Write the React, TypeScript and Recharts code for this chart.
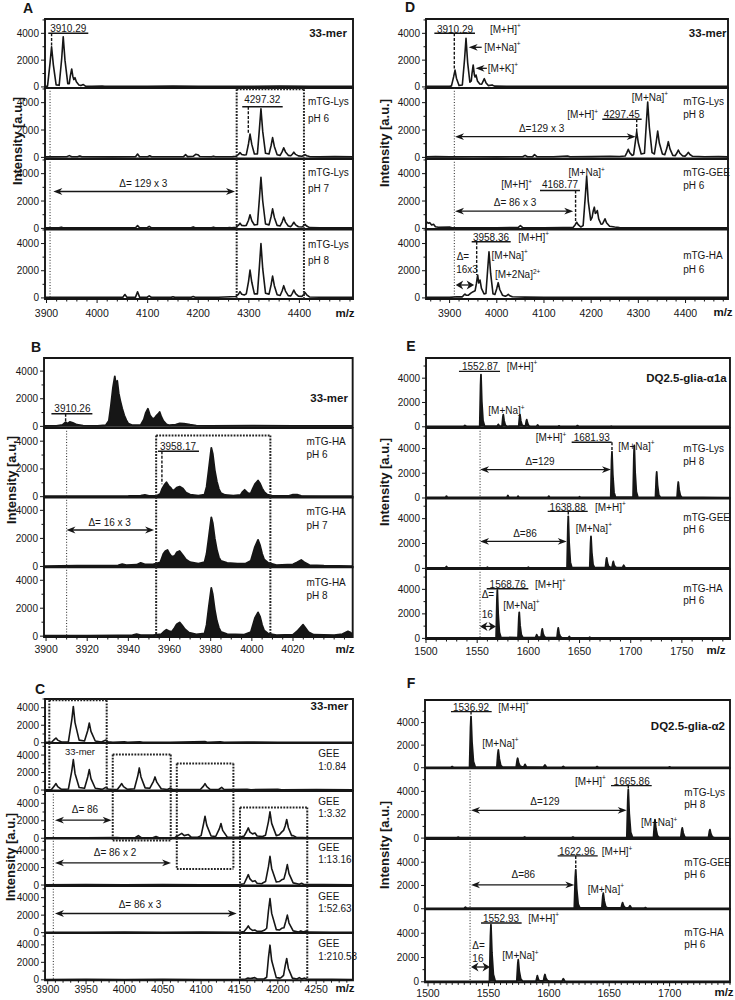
import React from "react";
import {
  ComposedChart,
  Line,
  Area,
  XAxis,
  YAxis,
  ReferenceLine,
  ReferenceDot,
  ReferenceArea,
} from "recharts";

const FONT = '"Liberation Sans", Arial, Helvetica, sans-serif';
const INK = "#161616";

// ---- tick labels ----
const yLabels = [0, 2000, 4000];
const yGrid = [0, 1000, 2000, 3000, 4000, 5000];
const mzLabelsA = [3900, 4000, 4100, 4200, 4300, 4400];
const mzLabelsB = [3900, 3920, 3940, 3960, 3980, 4000, 4020];
const mzLabelsC = [3900, 3950, 4000, 4050, 4100, 4150, 4200, 4250];
const mzLabelsE = [1500, 1550, 1600, 1650, 1700, 1750];
const mzLabelsF = [1500, 1550, 1600, 1650, 1700];

// ---- spectra: [m/z, intensity] ----
// A: 33-mer + mTG-Lys at pH 6/7/8
const a33mer = [[3897,40],[3902,60],[3907,1800],[3910,3000],[3913.5,1650],[3919,150],[3925,120],[3930,2100],[3933,3750],[3936.5,2000],[3942,250],[3945,250],[3947,800],[3949.8,1340],[3952,800],[3954,550],[3956.3,690],[3959,380],[3964,150],[3968,100],[3972.8,180],[3977,60],[3990,40],[4010,70],[4015,40],[4060,50],[4100,40],[4150,60],[4200,40],[4260,50],[4300,40],[4360,60],[4420,40],[4480,50],[4506,40]];
const aLysPh6 = [[3897,40],[3940,50],[3945,130],[3950,50],[3962,60],[3966,110],[3970,50],[4030,40],[4076,50],[4080,250],[4084,50],[4100,50],[4104,120],[4108,50],[4150,50],[4171,60],[4175,200],[4179,60],[4190,80],[4195,230],[4199,200],[4203,70],[4226,50],[4230,90],[4234,50],[4268,60],[4275,80],[4279.6,220],[4282.6,350],[4286,210],[4291,170],[4295,200],[4299.4,1000],[4302.4,1700],[4305.9,950],[4311,250],[4317,260],[4321,2100],[4324,3550],[4327.5,1900],[4333,300],[4340,250],[4344,850],[4347,1450],[4350.5,800],[4356,200],[4362,150],[4366,420],[4369,700],[4372.5,400],[4378,150],[4383,120],[4386,230],[4389,380],[4392.5,220],[4398,110],[4405,90],[4408,130],[4411,200],[4414.5,120],[4420,60],[4440,40],[4470,60],[4506,40]];
const aLysPh7 = [[3897,40],[3925,50],[3929,90],[3933,40],[3990,50],[4040,40],[4076,50],[4080,200],[4084,50],[4099,50],[4103,150],[4107,50],[4150,40],[4186,50],[4190,110],[4194,50],[4226,50],[4230,90],[4234,50],[4258,50],[4262,70],[4266,50],[4275,90],[4279.6,230],[4282.6,380],[4286,220],[4291,190],[4295,220],[4299.4,600],[4302.4,1000],[4305.9,560],[4311,250],[4317,280],[4321,2200],[4324,3740],[4327.5,2000],[4333,320],[4340,260],[4344,850],[4347,1430],[4350.5,800],[4356,220],[4362,180],[4366,480],[4369,820],[4372.5,460],[4378,170],[4383,130],[4386,270],[4389,450],[4392.5,260],[4398,120],[4405,100],[4408,180],[4411,290],[4414.5,170],[4420,60],[4440,50],[4480,40],[4506,40]];
const aLysPh8 = [[3897,40],[3950,50],[4000,40],[4051,50],[4055,250],[4059,50],[4076,60],[4080,450],[4084,60],[4099,50],[4103,150],[4107,50],[4146,40],[4150,80],[4154,40],[4186,50],[4190,100],[4194,50],[4240,50],[4275,100],[4279.6,280],[4282.6,460],[4286,270],[4291,220],[4295,300],[4299.4,1200],[4302.4,2050],[4305.9,1150],[4311,300],[4317,300],[4321,2350],[4324,4000],[4327.5,2150],[4333,350],[4340,280],[4344,950],[4347,1610],[4350.5,900],[4356,230],[4362,180],[4366,530],[4369,900],[4372.5,500],[4378,170],[4383,150],[4386,340],[4389,580],[4392.5,320],[4398,130],[4405,110],[4408,240],[4411,400],[4414.5,230],[4420,70],[4440,50],[4480,40],[4506,40]];

// B: 33-mer + mTG-HA at pH 6/7/8
const b33mer = [[3899,30],[3905,40],[3908,100],[3909.5,300],[3910.5,200],[3911.5,320],[3913,250],[3915,120],[3918,60],[3925,40],[3929,80],[3930.5,400],[3931.5,1500],[3932.5,2800],[3933.4,3620],[3934,2900],[3934.6,3300],[3935.3,2400],[3936,1900],[3937,1300],[3938,800],[3939,450],[3940,200],[3942,80],[3946,100],[3947.5,500],[3948.5,1000],[3949.5,1280],[3950.5,800],[3951.5,600],[3952.5,550],[3953.5,750],[3954.5,900],[3955.2,1040],[3956,700],[3957,400],[3958.5,150],[3960,80],[3963,120],[3965,220],[3967,200],[3970,120],[3973,60],[3980,40],[4000,50],[4020,40],[4049,30]];
const bHaPh6 = [[3899,30],[3920,40],[3940,50],[3946,80],[3948,120],[3950,60],[3954,80],[3955.5,200],[3956.5,600],[3957.5,850],[3958.5,1040],[3959.5,800],[3960.5,650],[3961.5,450],[3962.5,500],[3963.5,650],[3964.9,730],[3966.5,580],[3968,300],[3970,150],[3974,80],[3977,150],[3978,700],[3979,1900],[3980.3,3520],[3981,3100],[3982,1900],[3983,1100],[3984,550],[3985,250],[3987,120],[3991,80],[3994.5,120],[3995.5,350],[3996.5,495],[3997.5,350],[3998.5,220],[3999.5,260],[4000.5,600],[4001.5,900],[4003,1165],[4004,950],[4005,600],[4006,350],[4007.5,150],[4010,60],[4018,60],[4020,150],[4022,140],[4024,60],[4035,40],[4049,30]];
const bHaPh7 = [[3899,30],[3915,50],[3925,60],[3935,80],[3937,160],[3939,90],[3944,120],[3946,250],[3948,150],[3952,150],[3955.5,300],[3957,900],[3958,1100],[3959,1170],[3960,900],[3961,700],[3962.5,750],[3963.5,1000],[3964.9,1100],[3966.5,800],[3968,500],[3970,300],[3974,200],[3977,300],[3978,900],[3979,2000],[3980.3,3500],[3981,3100],[3982,2000],[3983,1200],[3984,650],[3985,400],[3988,250],[3993,200],[3997,200],[3999.5,400],[4000.5,900],[4001.5,1400],[4003,1890],[4004,1500],[4005,900],[4006,500],[4008,250],[4012,100],[4020,150],[4022,300],[4024,460],[4025.5,300],[4028,100],[4035,50],[4049,30]];
const bHaPh8 = [[3899,30],[3920,40],[3935,60],[3942,80],[3944,150],[3946,80],[3952,80],[3956,150],[3957.5,350],[3958.5,460],[3959.5,380],[3961,300],[3962.5,600],[3963.5,850],[3964.9,985],[3966,800],[3967.5,500],[3969.5,250],[3973,120],[3977,200],[3978,800],[3979,2000],[3980.3,3450],[3981,3000],[3982,1900],[3983,1100],[3984,600],[3985,300],[3988,150],[3996,100],[3999.5,300],[4000.5,800],[4001.5,1300],[4003,1700],[4004,1400],[4005,800],[4006,400],[4008,180],[4012,80],[4020,100],[4022,350],[4023.5,600],[4024.9,820],[4026,600],[4027.5,300],[4030,100],[4040,80],[4044,150],[4046.7,340],[4048,250],[4049,150]];

// C: 33-mer + GEE molar ratios
const c33mer = [[3896.5,40],[3905,60],[3908.8,380],[3910.8,540],[3913,300],[3918,80],[3927,120],[3931.4,2600],[3933.4,4150],[3935.6,2300],[3941,300],[3948,200],[3952.2,1400],[3954.2,2260],[3956.4,1300],[3962,200],[3970,80],[3974.5,250],[3976,300],[3978.5,120],[3985,50],[4000,100],[4004,40],[4020,120],[4024,40],[4060,60],[4105,150],[4109,40],[4125,100],[4130,40],[4160,80],[4200,40],[4250,50],[4298,40]];
const cGee084 = [[3896.5,40],[3905,60],[3908.8,500],[3910.8,740],[3913,400],[3918,80],[3927,120],[3931.4,2200],[3933.4,3480],[3935.6,1900],[3941,300],[3948,200],[3952.2,1500],[3954.2,2340],[3956.4,1300],[3962,200],[3971,80],[3974.5,250],[3976,300],[3978.5,120],[3985,60],[3991,80],[3994.5,500],[3996.5,740],[3998.8,400],[4004,80],[4013,150],[4017.4,1600],[4019.4,2530],[4021.6,1500],[4027,250],[4033,200],[4037.9,1000],[4039.9,1500],[4042.2,900],[4048,150],[4056,60],[4059.5,200],[4063,60],[4080,50],[4099,60],[4103.1,450],[4105.1,740],[4107.4,400],[4112,60],[4123,60],[4126.8,300],[4130,60],[4160,80],[4165,40],[4200,80],[4205,40],[4250,50],[4298,40]];
const cGee332 = [[3896.5,40],[3930,50],[3950,60],[3990,80],[3995,40],[4014,60],[4018.2,300],[4022,60],[4037,50],[4041.2,200],[4045,50],[4066,80],[4070,300],[4074.7,550],[4078,300],[4083.4,420],[4087,120],[4095,100],[4100,300],[4103.1,1600],[4105.1,2520],[4107.3,1500],[4113,250],[4119,200],[4123.9,1100],[4125.9,1690],[4128.1,900],[4134,150],[4150,100],[4156,250],[4159.5,800],[4161.5,1180],[4163.7,700],[4167,500],[4170.3,600],[4173,250],[4180,200],[4184,350],[4187.8,1900],[4189.8,3010],[4192,1700],[4198,300],[4202,400],[4205,700],[4207.5,900],[4209.6,1400],[4211.6,2140],[4213.8,1200],[4218,300],[4220,300],[4224,120],[4240,60],[4270,50],[4298,40]];
const cGee1316 = [[3896.5,40],[3950,60],[4000,40],[4050,60],[4100,40],[4150,60],[4156,150],[4159.5,800],[4161.5,1190],[4163.7,700],[4167,400],[4170.3,500],[4173,200],[4179,150],[4181.5,300],[4184,400],[4187.8,2100],[4189.8,3290],[4192,1900],[4198,350],[4202,400],[4205,600],[4208,700],[4210.4,1500],[4212.4,2340],[4214.6,1300],[4220,250],[4228,100],[4231,200],[4234,60],[4260,50],[4298,40]];
const cGee5263 = [[3896.5,40],[3950,50],[4000,60],[4050,40],[4100,60],[4150,50],[4156,120],[4159.5,500],[4161.5,770],[4163.7,450],[4167,250],[4170,300],[4173,150],[4179,150],[4183,300],[4185.5,500],[4187.8,2500],[4189.8,3900],[4192,2200],[4198,350],[4202,300],[4205,500],[4208,550],[4210.4,1300],[4212.4,2000],[4214.6,1100],[4220,200],[4227,80],[4230,200],[4233,80],[4237,200],[4240,60],[4270,50],[4298,40]];
const cGee21053 = [[3896.5,40],[3950,50],[4000,40],[4050,50],[4100,40],[4150,50],[4158,100],[4161,200],[4164,150],[4167,200],[4170,250],[4173,100],[4182,100],[4185.5,300],[4187.8,2500],[4189.8,3960],[4192,2200],[4198,250],[4203,200],[4205,300],[4207.5,500],[4209.6,1600],[4211.6,2440],[4213.8,1300],[4219,200],[4225,100],[4228,250],[4231,100],[4235,200],[4238,60],[4270,50],[4298,40]];

// D: 33-mer, mTG-Lys pH 8, mTG-GEE pH 6, mTG-HA pH 6
const d33mer = [[3850,40],[3880,50],[3900,40],[3904,80],[3908.5,750],[3911.5,1260],[3914.5,650],[3920,100],[3927,150],[3931.8,2100],[3934.8,3630],[3938.3,1800],[3943,350],[3946,450],[3947.5,1000],[3950,1640],[3952.5,900],[3954,750],[3956,890],[3959,450],[3964,220],[3968,200],[3970.6,400],[3973.6,614],[3977,320],[3982,100],[3990,150],[3995,60],[4020,40],[4080,50],[4150,40],[4220,50],[4300,40],[4380,50],[4450,40],[4490,40]];
const dLysPh8 = [[3850,40],[3870,60],[3900,40],[3950,50],[4000,40],[4055,50],[4060,150],[4065,50],[4076,60],[4080,200],[4085,60],[4120,50],[4150,100],[4155,50],[4200,60],[4240,80],[4260,70],[4272,100],[4275.7,350],[4278.7,590],[4282,330],[4287,150],[4290,200],[4293.5,1100],[4296.5,1880],[4300,1050],[4306,250],[4313,300],[4316.8,2400],[4319.8,4050],[4323.3,2200],[4329,350],[4334,250],[4338,1150],[4341,1930],[4344.5,1050],[4351,250],[4356,200],[4360.5,680],[4363.5,1150],[4367,620],[4373,150],[4378,120],[4381.7,320],[4384.7,540],[4388.2,300],[4394,100],[4399,90],[4402.8,220],[4405.8,370],[4409.3,210],[4415,80],[4440,50],[4470,60],[4490,40]];
const dGeePh6 = [[3850,300],[3852,450],[3855,380],[3858,420],[3862,250],[3866,300],[3870,120],[3876,80],[3900,100],[3905,50],[3950,40],[4000,50],[4045,60],[4050,200],[4055,60],[4100,50],[4140,60],[4162,80],[4166.3,270],[4169.3,450],[4172.5,280],[4178,100],[4183,200],[4187.5,2300],[4190.5,3800],[4193.8,2000],[4199,600],[4202,800],[4204.5,1300],[4206.7,1550],[4208.8,1100],[4211,1150],[4213,1310],[4216,700],[4221,300],[4224,320],[4226.5,500],[4229.3,700],[4232.5,420],[4239,160],[4250,100],[4260,60],[4300,50],[4350,40],[4400,50],[4450,40],[4490,40]];
const dHaPh6 = [[3850,40],[3880,50],[3900,40],[3915,80],[3927,80],[3930,200],[3932.6,280],[3935,200],[3940,200],[3945,350],[3950,460],[3954,520],[3956.8,1050],[3959.5,1690],[3961.6,1100],[3962.6,1150],[3964.4,1320],[3967.5,700],[3973,300],[3977,320],[3980.5,2000],[3983.5,3400],[3987,1800],[3992,300],[3996,250],[4000,700],[4003,1120],[4006.3,620],[4012,200],[4018,120],[4021.5,180],[4024.4,260],[4027.5,160],[4033,80],[4060,60],[4100,50],[4150,40],[4200,50],[4280,40],[4350,50],[4420,40],[4490,40]];

// E: DQ2.5-glia-α1a series
const eAlpha1a = [[1500,30],[1520,40],[1537,40],[1538,110],[1539.5,40],[1552.5,40],[1553.3,3400],[1553.7,4300],[1554.5,2100],[1555.7,500],[1557.2,60],[1569.5,50],[1570.6,200],[1571.8,50],[1574.3,50],[1575.1,800],[1575.5,1000],[1576.3,500],[1577.5,120],[1579,40],[1590.6,60],[1591.4,800],[1591.8,1000],[1592.6,500],[1593.8,150],[1595,80],[1597.2,80],[1598,470],[1598.4,580],[1599.2,300],[1600.4,80],[1602,40],[1608,40],[1609,150],[1610.2,40],[1629,40],[1630,80],[1631,40],[1647,40],[1648,100],[1649,40],[1680,40],[1681,60],[1682,40],[1740,40],[1797,30]];
const eLysPh8 = [[1500,40],[1519,40],[1520,150],[1521,40],[1560,40],[1579,50],[1580,200],[1581,50],[1589,40],[1590,150],[1591,40],[1619,40],[1620,150],[1621,40],[1649,40],[1650,100],[1651,40],[1680.5,60],[1681.3,3000],[1681.7,3720],[1682.5,1900],[1683.7,450],[1685.2,60],[1702.3,60],[1703.1,3400],[1703.5,4260],[1704.3,2100],[1705.5,500],[1707,60],[1724.2,50],[1725,1700],[1725.4,2100],[1726.2,1050],[1727.4,250],[1729,50],[1745.3,50],[1746.1,1000],[1746.5,1290],[1747.3,650],[1748.5,200],[1750,50],[1770,40],[1797,30]];
const eGeePh6 = [[1500,40],[1519,40],[1520,150],[1521,40],[1559,40],[1560,100],[1561,40],[1599,40],[1600,100],[1601,40],[1637.8,60],[1638.6,3300],[1639,4180],[1639.8,2100],[1641,500],[1642.5,60],[1660,60],[1660.8,2050],[1661.2,2570],[1662,1300],[1663.2,300],[1664.7,60],[1675.3,60],[1676.1,670],[1676.5,835],[1677.3,420],[1678.5,150],[1680,80],[1681.8,80],[1682.6,450],[1683,560],[1683.8,280],[1685,100],[1686.5,60],[1692,60],[1693.1,250],[1694.5,60],[1720,40],[1760,40],[1797,30]];
const eHaPh6 = [[1500,40],[1530,40],[1550,40],[1568.5,60],[1569.3,3150],[1569.7,3950],[1570.5,2000],[1571.7,500],[1573.2,80],[1589.9,60],[1590.7,1700],[1591.1,2120],[1591.9,1060],[1593.1,300],[1594.6,80],[1607,60],[1608.1,300],[1609.3,100],[1612.4,100],[1613.2,610],[1613.6,770],[1614.4,380],[1615.6,150],[1617,60],[1628,60],[1628.8,680],[1629.2,850],[1630,420],[1631.2,150],[1632.7,60],[1639,40],[1640,150],[1641,40],[1659,40],[1660,100],[1661,40],[1700,40],[1797,30]];

// F: DQ2.5-glia-α2 series
const fAlpha2 = [[1497.5,30],[1519,40],[1520,100],[1521,40],[1534.4,60],[1535.2,3600],[1535.6,4530],[1536.4,2300],[1537.6,550],[1539.1,60],[1557,60],[1557.8,1260],[1558.2,1570],[1559,800],[1560.2,200],[1561.7,60],[1573,60],[1573.8,670],[1574.2,840],[1575,420],[1576.2,150],[1577.7,80],[1579.3,80],[1580.3,300],[1581.5,80],[1595.6,60],[1596.8,250],[1598,60],[1611,40],[1612,120],[1613,40],[1639,40],[1640,100],[1641,40],[1699,40],[1700,80],[1701,40],[1750,30]];
const fLysPh8 = [[1497.5,30],[1524,40],[1525,80],[1526,40],[1579,40],[1580,100],[1581,40],[1619,40],[1620,100],[1621,40],[1664.6,60],[1665.4,3300],[1665.8,4150],[1666.6,2100],[1667.8,500],[1669.3,60],[1686.7,60],[1687.5,1260],[1687.9,1580],[1688.7,800],[1689.9,200],[1691.4,60],[1709.3,60],[1710.1,690],[1710.5,870],[1711.3,440],[1712.5,120],[1714,50],[1732.2,50],[1733,580],[1733.4,720],[1734.2,360],[1735.4,100],[1737,40],[1750,30]];
const fGeePh6 = [[1497.5,30],[1530,40],[1531,130],[1532,40],[1580,40],[1621.1,60],[1621.9,2700],[1622.3,3340],[1623.1,1700],[1624.3,400],[1625.8,60],[1643.9,60],[1644.7,1060],[1645.1,1330],[1645.9,670],[1647.1,180],[1648.6,60],[1659.9,60],[1660.7,420],[1661.1,520],[1661.9,260],[1663.1,100],[1664.6,60],[1666,60],[1667.2,250],[1668.4,60],[1679,40],[1680,100],[1681,40],[1750,30]];
const fHaPh6 = [[1497.5,30],[1520,40],[1550.9,60],[1551.7,3800],[1552.1,4700],[1552.9,2400],[1554.1,600],[1555.6,60],[1573.5,60],[1574.3,1450],[1574.7,1820],[1575.5,900],[1576.7,250],[1578.2,60],[1589.5,60],[1590.5,500],[1591.5,150],[1592.5,80],[1595.6,80],[1596.4,480],[1596.8,600],[1597.6,300],[1598.8,100],[1600.3,60],[1611,60],[1612,250],[1613.2,60],[1630,40],[1660,40],[1700,40],[1750,30]];

// ---- annotation helpers (data coordinates) ----
const T = 1e6;
const B = -1e6;
const txt = (x: number, y: number, s: string, a = "start", extra: any = {}) => ({ k: "t", x, y, s, a, ...extra });
const ion = (x: number, y: number, s: string, sup: string, a = "start") => ({ k: "t", x, y, s, a, sup });
const title = (x: number, y: number, s: string) => ({ k: "t", x, y, s, a: "end", b: true, fs: 11.5 });
const hl = (x1: number, x2: number, y: number, st = "solid") => ({ k: "l", x1, x2, y1: y, y2: y, st });
const vl = (x: number, y1: number, y2: number, st: string) => ({ k: "l", x1: x, x2: x, y1, y2, st });
const ar = (x1: number, x2: number, y: number, extra: any = {}) => ({ k: "a", x1, x2, y, ...extra });

const notesA = [
  [txt(3943, 4339, "3910.29", "middle"), hl(3903.5, 3982.6, 4003), vl(3910, 4003, 3000, "dash"), title(4494, 4003, "33-mer")],
  [txt(4326.7, 4266, "4297.32", "middle"), hl(4287, 4367, 3704), vl(4299, 3704, 1761, "dash"),
    txt(4417, 4069, "mTG-Lys"), txt(4417, 2857, "pH 6"),
    hl(4276, 4409, 4975, "box"), vl(4276, 4975, B, "box"), vl(4409, 4975, B, "box"), vl(3907, T, B, "fine")],
  [ar(3913.5, 4272.7, 2696), txt(4091.4, 3302, "Δ= 129 x 3", "middle"),
    txt(4417, 4106, "mTG-Lys"), txt(4417, 2893, "pH 7"),
    vl(4276, T, B, "box"), vl(4409, T, B, "box"), vl(3907, T, B, "fine")],
  [txt(4417, 3944, "mTG-Lys"), txt(4417, 2789, "pH 8"),
    vl(4276, T, B, "box"), vl(4409, T, B, "box"), vl(3907, T, B, "fine")],
];

const notesB = [
  [txt(3912.8, 1258, "3910.26", "middle"), hl(3902.6, 3922.5, 917), vl(3909.5, 917, 300, "dash"), title(4046.7, 2054, "33-mer")],
  [hl(3953.5, 4009, 4409, "box"), vl(3953.5, 4409, B, "box"), vl(4009, 4409, B, "box"),
    txt(3964.1, 3616, "3958.17", "middle"), hl(3954.4, 3974.3, 3278), vl(3956.3, 3278, 900, "dash"),
    txt(4026.5, 3998, "mTG-HA"), txt(4026.5, 3040, "pH 6"), vl(3910, T, B, "fine")],
  [ar(3909.9, 3952.5, 2598), txt(3930.9, 3118, "Δ= 16 x 3", "middle"),
    txt(4026.5, 3901, "mTG-HA"), txt(4026.5, 2953, "pH 7"),
    vl(3953.5, T, B, "box"), vl(4009, T, B, "box"), vl(3910, T, B, "fine")],
  [txt(4026.5, 3848, "mTG-HA"), txt(4026.5, 2918, "pH 8"),
    vl(3953.5, T, B, "box"), vl(4009, T, B, "box"), vl(3910, T, B, "fine")],
];

const notesC = [
  [hl(3902.1, 3976.9, 4850, "box"), vl(3902.1, 4850, B, "box"), vl(3976.9, 4850, B, "box"), title(4291.9, 4155, "33-mer")],
  [vl(3902.1, T, B, "box"), vl(3976.9, T, B, "box"), txt(3942.1, 4429, "33-mer", "middle", { fs: 9.5 }),
    hl(3984.8, 4060.4, 4052, "box"), vl(3984.8, 4052, B, "box"), vl(4060.4, 4052, B, "box"),
    hl(4068.3, 4142.1, 3023, "box"), vl(4068.3, 3023, B, "box"), vl(4142.1, 3023, B, "box"),
    txt(4252.8, 4132, "GEE"), txt(4252.8, 2715, "1:0.84")],
  [vl(3984.8, T, B, "box"), vl(4060.4, T, B, "box"), vl(4068.3, T, B, "box"), vl(4142.1, T, B, "box"),
    hl(4150.7, 4238.4, 3515, "box"), vl(4150.7, 3515, B, "box"), vl(4238.4, 3515, B, "box"),
    vl(3907.3, T, B, "fine"), ar(3909.5, 3983.4, 2063), txt(3948.6, 3286, "Δ= 86", "middle"),
    txt(4252.8, 4155, "GEE"), txt(4252.8, 2829, "1:3.32")],
  [vl(3984.8, T, 5080, "box"), vl(4060.4, T, 5080, "box"), hl(3984.8, 4060.4, 5080, "box"),
    vl(4068.3, T, 1846, "box"), vl(4142.1, T, 1846, "box"), hl(4068.3, 4142.1, 1846, "box"),
    vl(4150.7, T, B, "box"), vl(4238.4, T, B, "box"), vl(3907.3, T, B, "fine"),
    ar(3909.5, 4060.8, 2532), txt(3987.8, 3675, "Δ= 86 x 2", "middle"),
    txt(4252.8, 4246, "GEE"), txt(4252.8, 2909, "1:13.16")],
  [vl(4150.7, T, B, "box"), vl(4238.4, T, B, "box"), vl(3907.3, T, B, "fine"),
    ar(3909.5, 4146.4, 2189), txt(4020.3, 3234, "Δ= 86 x 3", "middle"),
    txt(4252.8, 4143, "GEE"), txt(4252.8, 2732, "1:52.63")],
  [vl(4150.7, T, B, "box"), vl(4238.4, T, B, "box"), vl(3907.3, T, B, "fine"),
    txt(4252.8, 4138, "GEE"), txt(4252.8, 2680, "1:210.53")],
];

const notesD = [
  [txt(3911.5, 4301, "3910.29", "middle"), hl(3867.7, 3953.8, 4003), vl(3910, 4003, 1263, "dash"),
    ion(3985.6, 4301, "[M+H]", "+"),
    ar(3968, 3940.5, 2958, { one: true }), ion(3973.6, 2958, "[M+Na]", "+"),
    ar(3979, 3955, 1390, { one: true }), ion(3981, 1390, "[M+K]", "+"),
    title(4487, 4003, "33-mer")],
  [ion(4324.7, 4400, "[M+Na]", "+", "middle"), ion(4182, 3098, "[M+H]", "+", "middle"),
    txt(4265, 3098, "4297.45", "middle"), hl(4223.6, 4307, 2784), vl(4296.5, 2784, 1878, "dash"),
    ar(3911.5, 4294.4, 1513), txt(4095, 2126, "Δ=129 x 3", "middle"),
    txt(4395, 4069, "mTG-Lys"), txt(4395, 3098, "pH 8"), vl(3910, T, B, "fine")],
  [ion(4190.5, 4062, "[M+Na]", "+", "middle"), ion(4042, 3185, "[M+H]", "+", "middle"),
    txt(4134, 3185, "4168.77", "middle"), hl(4091.6, 4176.3, 2769), vl(4167, 2769, 453, "dash"),
    ar(3911.5, 4162, 1257), txt(4038.6, 1914, "Δ= 86 x 3", "middle"),
    txt(4395, 4062, "mTG-GEE"), txt(4395, 3134, "pH 6"), vl(3910, T, B, "fine")],
  [txt(3987.7, 4459, "3958.36", "middle"), hl(3946.8, 4029.5, 4136), vl(3957.4, 4136, 1686, "dash"),
    ion(4045.6, 4459, "[M+H]", "+"), ion(3989, 3157, "[M+Na]", "+"), ion(3996, 1686, "[M+2Na]", "2+"),
    txt(3915, 3032, "Δ="), txt(3914, 2054, "16x3"), ar(3913, 3952, 950, { fat: true }),
    txt(4395, 3157, "mTG-HA"), txt(4395, 2106, "pH 6"), vl(3910, T, B, "fine")],
];

const notesE = [
  [txt(1552.8, 4969, "1552.87", "middle"), hl(1532.2, 1572.3, 4557), ion(1578.8, 4969, "[M+H]", "+"),
    ion(1560.9, 1324, "[M+Na]", "+"), title(1793.8, 4015, "DQ2.5-glia-α1a")],
  [ion(1607.2, 4884, "[M+H]", "+"), txt(1661.9, 4884, "1681.93", "middle"), hl(1642.3, 1681.4, 4503),
    vl(1681.7, 4503, 3719, "dash"), ion(1687.9, 4180, "[M+Na]", "+"),
    ar(1552.8, 1680.7, 2295), txt(1611.4, 2990, "Δ=129", "middle"),
    txt(1751.4, 3994, "mTG-Lys"), txt(1751.4, 2910, "pH 8"), vl(1552.8, T, B, "fine")],
  [txt(1638.4, 4936, "1638.88", "middle"), hl(1618.9, 1658, 4582), vl(1639, 4582, 4180, "dash"),
    ion(1665.1, 4936, "[M+H]", "+"), ion(1646.2, 3247, "[M+Na]", "+"),
    ar(1552.8, 1637.5, 2170), txt(1596.7, 2813, "Δ=86", "middle"),
    txt(1751.4, 4100, "mTG-GEE"), txt(1751.4, 3110, "pH 6"), vl(1552.8, T, B, "fine")],
  [txt(1579.8, 4436, "1568.76", "middle"), hl(1559.3, 1600, 4053), ion(1606.5, 4436, "[M+H]", "+"),
    ion(1575.5, 2723, "[M+Na]", "+"), txt(1554.4, 3564, "Δ="), txt(1554.4, 1932, "16"),
    ar(1552.8, 1568.4, 978, { fat: true }),
    txt(1751.4, 4029, "mTG-HA"), txt(1751.4, 3099, "pH 6"), vl(1552.8, T, B, "fine")],
];

const notesF = [
  [txt(1535.6, 5362, "1536.92", "middle"), hl(1519, 1552.7, 4972), vl(1535.6, 4972, 4528, "dash"),
    ion(1558.2, 5362, "[M+H]", "+"), ion(1544.9, 2168, "[M+Na]", "+"), title(1745.8, 3703, "DQ2.5-glia-α2")],
  [ion(1621.7, 4862, "[M+H]", "+"), txt(1668.6, 4862, "1665.86", "middle"), hl(1651.5, 1685.2, 4493),
    vl(1665.8, 4493, 4150, "dash"), ion(1676.3, 1296, "[M+Na]", "+"),
    ar(1535.6, 1664.5, 2376), txt(1596.8, 3148, "Δ=129", "middle"),
    txt(1712.2, 3919, "mTG-Lys"), txt(1712.2, 2864, "pH 8"), vl(1534.8, T, B, "fine")],
  [txt(1623.3, 4915, "1622.96", "middle"), hl(1607.3, 1640.5, 4545), vl(1622.3, 4545, 3338, "dash"),
    ion(1643.8, 4915, "[M+H]", "+"), ion(1632.2, 1674, "[M+Na]", "+"),
    ar(1535.6, 1621.1, 2045), txt(1578.9, 2907, "Δ=86", "middle"),
    txt(1712.2, 4001, "mTG-GEE"), txt(1712.2, 2967, "pH 6"), vl(1534.8, T, B, "fine")],
  [txt(1560.4, 5258, "1552.93", "middle"), hl(1543.9, 1577.5, 4846), ion(1583, 5258, "[M+H]", "+"),
    ion(1561.5, 2151, "[M+Na]", "+"), txt(1536.7, 3000, "Δ="), txt(1536.7, 1879, "16"),
    ar(1535.6, 1551.3, 1219, { fat: true }),
    txt(1712.2, 4022, "mTG-HA"), txt(1712.2, 3057, "pH 6"), vl(1534.8, T, B, "fine")],
];

const panels = [
  { x0: 45, x1: 353, tops: [19, 88, 158.5, 229, 299], xd: [3897, 4506], yd: [[-80, 5070]],
    spectra: [a33mer, aLysPh6, aLysPh7, aLysPh8], notes: notesA, labels: mzLabelsA, minor: 20, labOff: 14 },
  { x0: 426, x1: 728, tops: [19, 88, 158.5, 229, 299], xd: [3850, 4490], yd: [[-80, 5070]],
    spectra: [d33mer, dLysPh8, dGeePh6, dHaPh6], notes: notesD, labels: mzLabelsA, minor: 20, labOff: 14 },
  { x0: 44.3, x1: 353, tops: [358.3, 427.5, 497, 567.3, 637.3], xd: [3899, 4049], yd: [[-60, 4950]],
    spectra: [b33mer, bHaPh6, bHaPh7, bHaPh8], notes: notesB, labels: mzLabelsB, minor: 5, labOff: 12.5, filled: true },
  { x0: 426, x1: 730, tops: [358.3, 427.7, 498.3, 569.3, 639.3], xd: [1500, 1797], yd: [[-50, 5660]],
    spectra: [eAlpha1a, eLysPh8, eGeePh6, eHaPh6], notes: notesE, labels: mzLabelsE, minor: 10, labOff: 12, filled: true },
  { x0: 45, x1: 353, tops: [699.3, 743.4, 790.8, 838.4, 885.8, 932.8, 980], xd: [3896.5, 4298],
    yd: [[-40, 5000], [-40, 5380], [-40, 5400], [-40, 5380], [-40, 5330], [-40, 5350]],
    spectra: [c33mer, cGee084, cGee332, cGee1316, cGee5263, cGee21053], notes: notesC, labels: mzLabelsC, minor: 10, labOff: 9.5 },
  { x0: 425, x1: 730, tops: [700, 768.3, 839, 909.3, 982.7], xd: [1497.5, 1750], yd: [[-50, 6000]],
    spectra: [fAlpha2, fLysPh8, fGeePh6, fHaPh6], notes: notesF, labels: mzLabelsF, minor: 5, labOff: 11, filled: true },
];

const LS: any = {
  solid: { stroke: INK, strokeWidth: 1.4 },
  dash: { stroke: INK, strokeWidth: 1.4, strokeDasharray: "3 1.6" },
  box: { stroke: "#222", strokeWidth: 2, strokeDasharray: "1.8 1.3" },
  fine: { stroke: "#222", strokeWidth: 1, strokeDasharray: "1 1.8" },
};

const grid = (lo: number, hi: number, step: number) => {
  const out: number[] = [];
  for (let v = Math.ceil(lo / step) * step; v <= hi + 1e-6; v += step) out.push(v);
  return out;
};

function XTick(props: any) {
  const { x, y, payload, majors, off } = props;
  const major = majors.includes(payload.value);
  return (
    <g>
      <line x1={x} x2={x} y1={y} y2={y + (major ? 4 : 2.5)} stroke={INK} strokeWidth={1} />
      {major && (
        <text x={x} y={y + off} textAnchor="middle" dominantBaseline="central" fontSize={10.5} fill={INK} fontFamily={FONT}>
          {payload.value}
        </text>
      )}
    </g>
  );
}

function YTick(props: any) {
  const { x, y, payload } = props;
  const major = yLabels.includes(payload.value);
  return (
    <g>
      <line x1={x - (major ? 4 : 2.5)} x2={x} y1={y} y2={y} stroke={INK} strokeWidth={1} />
      {major && (
        <text x={x - 6} y={y} textAnchor="end" dominantBaseline="central" fontSize={10} fill={INK} fontFamily={FONT}>
          {payload.value}
        </text>
      )}
    </g>
  );
}

function Arrow(p: any) {
  const { x1, y1, x2, fat, one } = p;
  const L = fat ? 7.5 : 9;
  const W = fat ? 4.5 : 3.4;
  const d = x2 > x1 ? 1 : -1;
  const head = (tip: number, s: number) =>
    `M${tip},${y1}L${tip - s * L},${y1 - W}L${tip - s * L * 0.7},${y1}L${tip - s * L},${y1 + W}Z`;
  return (
    <g>
      <line x1={x1 + (one ? 0 : d * L * 0.6)} y1={y1} x2={x2 - d * L * 0.6} y2={y1} stroke={INK} strokeWidth={1.3} />
      <path d={head(x2, d)} fill={INK} />
      {!one && <path d={head(x1, -d)} fill={INK} />}
    </g>
  );
}

function Txt({ cx, cy, n }: any) {
  return (
    <text x={cx} y={cy} textAnchor={n.a} dominantBaseline="central" fontSize={n.fs || 10}
      fontWeight={n.b ? 700 : 400} fill={INK} fontFamily={FONT}>
      {n.s}
      {n.sup && <tspan fontSize={6.5} dy={-4}>{n.sup}</tspan>}
    </text>
  );
}

function Sub({ x0, x1, top, bottom, xd, yd, pts, notes, filled, axis, labels, minor, labOff }: any) {
  const yw = 42;
  const pad = 4;
  const padR = 9;
  const xh = 24;
  const w = x1 - x0;
  const h = bottom - top;
  const rows = pts.map(([x, y]: number[]) => ({ x, y }));
  const yt = yGrid.filter((v) => v <= yd[1]);
  const clampY = (v: number) => Math.min(Math.max(v, yd[0]), yd[1]);
  return (
    <div style={{ position: "absolute", left: x0 - yw, top: top - pad }}>
      <ComposedChart width={yw + w + padR} height={h + pad + (axis ? xh : pad)} data={rows}
        margin={{ top: pad, right: padR, bottom: axis ? 0 : pad, left: 0 }}>
        <XAxis type="number" dataKey="x" domain={xd} allowDataOverflow hide={!axis}
          ticks={grid(xd[0], xd[1], minor)} interval={0} height={xh}
          tickLine={false} axisLine={false} tickSize={0} tickMargin={0}
          tick={(p: any) => <XTick {...p} majors={labels} off={labOff} />} />
        <YAxis type="number" domain={yd} allowDataOverflow ticks={yt} interval={0} width={yw}
          tickLine={false} axisLine={false} tickSize={0} tickMargin={0}
          tick={(p: any) => <YTick {...p} />} />
        {filled ? (
          <Area type="linear" dataKey="y" stroke={INK} strokeWidth={1.8} strokeLinejoin="round" fill={INK} fillOpacity={1}
            dot={false} activeDot={false} isAnimationActive={false} />
        ) : (
          <Line type="linear" dataKey="y" stroke={INK} strokeWidth={1.6} strokeLinejoin="round" dot={false} activeDot={false}
            isAnimationActive={false} />
        )}
        {notes.map((n: any, i: number) => {
          if (n.k === "l")
            return (
              <ReferenceLine key={i} ifOverflow="visible" {...LS[n.st]}
                segment={[{ x: n.x1, y: clampY(n.y1) }, { x: n.x2, y: clampY(n.y2) }]} />
            );
          if (n.k === "a")
            return (
              <ReferenceLine key={i} ifOverflow="visible" stroke={INK}
                segment={[{ x: n.x1, y: n.y }, { x: n.x2, y: n.y }]}
                shape={(p: any) => <Arrow {...p} fat={n.fat} one={n.one} />} />
            );
          return (
            <ReferenceDot key={i} x={n.x} y={n.y} r={0} ifOverflow="visible"
              shape={(p: any) => <Txt cx={p.cx} cy={p.cy} n={n} />} />
          );
        })}
        <ReferenceArea x1={xd[0]} x2={xd[1]} y1={yd[0]} y2={yd[1]} fill="none" fillOpacity={0}
          stroke={INK} strokeWidth={1.9} ifOverflow="visible" />
      </ComposedChart>
    </div>
  );
}

function Panel(cfg: any) {
  const n = cfg.spectra.length;
  return (
    <>
      {cfg.spectra.map((pts: number[][], i: number) => (
        <Sub key={i} x0={cfg.x0} x1={cfg.x1} top={cfg.tops[i]} bottom={cfg.tops[i + 1]} xd={cfg.xd}
          yd={cfg.yd[Math.min(i, cfg.yd.length - 1)]} pts={pts} notes={cfg.notes[i]} filled={cfg.filled}
          axis={i === n - 1} labels={cfg.labels} minor={cfg.minor} labOff={cfg.labOff} />
      ))}
    </>
  );
}

const letters: [string, number, number][] = [["A", 28, 8], ["D", 410, 7], ["B", 36, 347], ["E", 411, 346], ["C", 40, 689], ["F", 411, 683]];
const yTitles: [number, number][] = [[17, 141], [384, 143], [11, 480], [384, 482], [10, 857], [384, 845]];
const mzTitles: [number, number][] = [[345, 314], [723, 313], [345, 650], [716, 651], [345, 989], [724, 993]];

const centered = (x: number, y: number, extra: any = {}): React.CSSProperties => ({
  position: "absolute", left: x, top: y, transform: "translate(-50%, -50%)", whiteSpace: "nowrap", lineHeight: 1, ...extra,
});

export default function App() {
  return (
    <div style={{ position: "absolute", left: 0, top: 0, width: 735, height: 1000, background: "#fff",
      fontFamily: FONT, color: INK, overflow: "hidden" }}>
      {panels.map((p, i) => <Panel key={i} {...p} />)}
      {letters.map(([s, x, y]) => (
        <div key={s} style={centered(x, y, { fontSize: 14, fontWeight: 700 })}>{s}</div>
      ))}
      {yTitles.map(([x, y], i) => (
        <div key={i} style={centered(x, y, { fontSize: 13, fontWeight: 700, transform: "translate(-50%, -50%) rotate(-90deg)" })}>
          Intensity [a.u.]
        </div>
      ))}
      {mzTitles.map(([x, y], i) => (
        <div key={i} style={centered(x, y, { fontSize: 11.5, fontWeight: 700 })}>m/z</div>
      ))}
    </div>
  );
}
